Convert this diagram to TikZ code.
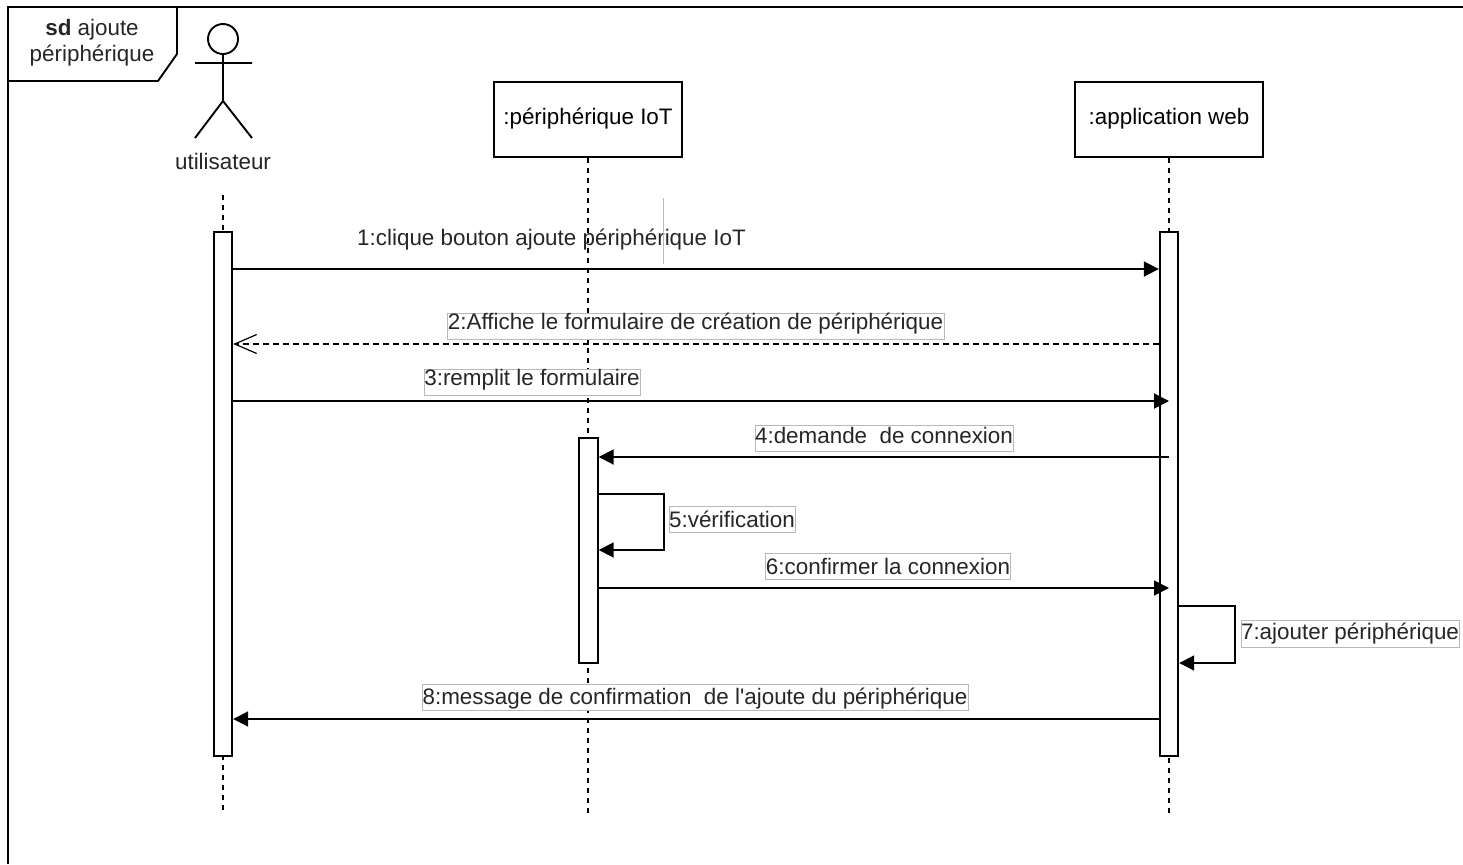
\documentclass[tikz,border=0pt]{standalone}
\usepackage{fontspec}
\setmainfont{Liberation Sans}[Ligatures=TeXOff]
\usetikzlibrary{arrows.meta}
\newcommand{\lift}[2]{\raisebox{#1pt}{#2}}
\newcommand{\dbl}{\hspace{0.556em}}
\tikzset{
  txt/.style={font=\fontsize{22.4}{26.5}\selectfont},
  base/.style={line width=1.9pt,draw=black},
  life/.style={line width=1.9pt,draw=black,dash pattern=on 5pt off 5pt},
  objbox/.style={base,fill=white,minimum width=188pt,minimum height=75pt,inner sep=0pt,txt,text height=16pt,text depth=5pt},
  actbox/.style={base,fill=white,inner sep=0pt,minimum width=18.5pt},
  msg/.style={line width=1.9pt,-{Triangle[length=15pt,width=15pt]}},
  rmsg/.style={line width=1.9pt,dash pattern=on 6pt off 4pt,-{Straight Barb[length=22pt,width=19pt,line width=1.2pt]}},
  lab/.style={draw=black!28,line width=1pt,fill=white,inner sep=0pt,text=black!85,txt,text height=16pt,text depth=5pt},
  plain/.style={inner sep=0pt,text=black!85,txt,align=center}
}
\begin{document}
\begin{tikzpicture}[x=1pt,y=-1pt]
\useasboundingbox[fill=white] (0,0) rectangle (1463,864);
% frame
\draw[base] (1463,7) -- (8,7) -- (8,864);
\node[plain] (frametitle) at (92,42.5) {\textbf{sd} ajoute\\périphérique};
\draw[base] (177,7) -- (177,54) -- (158,81) -- (8,81);
% actor
\node[base,circle,minimum size=30pt,inner sep=0pt] (head) at (223,39) {};
\coordinate (hip) at (223,101);
\coordinate (larm) at (195,63);
\coordinate (rarm) at (252,63);
\coordinate (lfoot) at (195,138);
\coordinate (rfoot) at (252,138);
\draw[base] (head.south) -- (hip) (larm) -- (rarm) (lfoot) -- (hip) -- (rfoot);
\node[plain] (user) at (223,161) {utilisateur};
% lifelines ends
\coordinate (u0) at (223,195);
\coordinate (u1) at (223,813);
\node[objbox] (iot) at (588,119.5) {\lift{1}{:périphérique IoT}};
\node[objbox] (web) at (1169,119.5) {\lift{1}{:application web}};
\coordinate (i1) at (588,813);
\coordinate (w1) at (1169,813);
\draw[life] (u0) -- (u1);
\draw[life] (iot.south) -- (i1);
\draw[life] (web.south) -- (w1);
% activations
\node[actbox,minimum height=524pt] (au) at (223,494) {};
\node[actbox,minimum height=225pt] (ai) at (588.5,550.5) {};
\node[actbox,minimum height=524pt] (aw) at (1169,494) {};
% message ends
\coordinate (m1a) at (au.east |- 0,269);  \coordinate (m1b) at (aw.west |- 0,269);
\coordinate (m2a) at (aw.west |- 0,344);  \coordinate (m2b) at (au.east |- 0,344);
\coordinate (m3a) at (au.east |- 0,401);  \coordinate (m3b) at (aw.center |- 0,401);
\coordinate (m4a) at (aw.center |- 0,457);\coordinate (m4b) at (ai.east |- 0,457);
\coordinate (m5a) at (ai.east |- 0,494);  \coordinate (m5b) at (664,494);
\coordinate (m5c) at (664,550);           \coordinate (m5d) at (ai.east |- 0,550);
\coordinate (m6a) at (ai.east |- 0,588);  \coordinate (m6b) at (aw.center |- 0,588);
\coordinate (m7a) at (aw.east |- 0,606);  \coordinate (m7b) at (1235,606);
\coordinate (m7c) at (1235,663);          \coordinate (m7d) at (aw.east |- 0,663);
\coordinate (m8a) at (aw.west |- 0,719);  \coordinate (m8b) at (au.east |- 0,719);
% labels
\node[plain] (l1) at (551.5,240) {1:clique bouton ajoute périphérique IoT};
\coordinate (c1) at (663,198); \coordinate (c2) at (663,264);
\draw[draw=black!28,line width=1pt] (c1) -- (c2);
\node[lab,minimum width=497pt,minimum height=26pt] (l2) at (695.5,326) {\lift{2.5}{2:Affiche le formulaire de création de périphérique}};
\node[lab,minimum width=216pt,minimum height=26pt] (l3) at (532,382.5) {\lift{2.5}{3:remplit le formulaire}};
\node[lab,minimum width=258pt,minimum height=26pt] (l4) at (884,438.5) {\lift{0.5}{4:demande\dbl de connexion}};
\node[lab,minimum width=126pt,minimum height=26pt] (l5) at (732,519.5) {\lift{-2}{5:vérification}};
\node[lab,minimum width=244pt,minimum height=26pt] (l6) at (888,566.5) {\lift{-2}{6:confirmer la connexion}};
\node[lab,minimum width=218pt,minimum height=27pt] (l7) at (1350,633.5) {\lift{0}{7:ajouter périphérique}};
\node[lab,minimum width=546pt,minimum height=26pt] (l8) at (695,697.5) {\lift{-1}{8:message de confirmation\dbl de l'ajoute du périphérique}};
% messages
\draw[msg] (m1a) -- (m1b);
\draw[rmsg] (m2a) -- (m2b);
\draw[msg] (m3a) -- (m3b);
\draw[msg] (m4a) -- (m4b);
\draw[msg] (m5a) -- (m5b) -- (m5c) -- (m5d);
\draw[msg] (m6a) -- (m6b);
\draw[msg] (m7a) -- (m7b) -- (m7c) -- (m7d);
\draw[msg] (m8a) -- (m8b);
\end{tikzpicture}
\end{document}
